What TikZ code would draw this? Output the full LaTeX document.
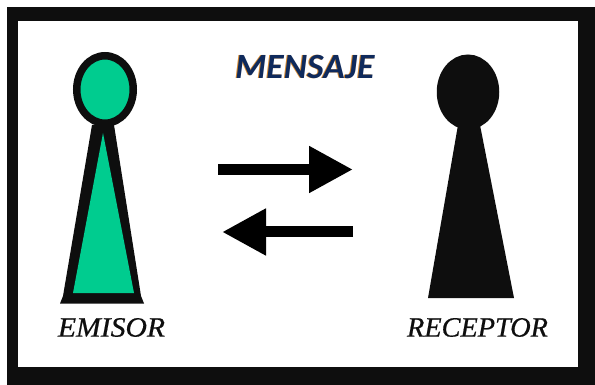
\documentclass[tikz,border=0pt]{standalone}
\usepackage{fontspec}
\setmainfont{Liberation Serif}
\newfontfamily\carl{Carlito}
\newfontfamily\capfont[FakeBold=0.6]{Liberation Serif}
\usetikzlibrary{shapes.geometric,arrows.meta}
\definecolor{frameblk}{HTML}{0E0E0E}
\definecolor{figgreen}{HTML}{00CC8F}
\definecolor{msgblue}{HTML}{0F2A5C}
\definecolor{msgorange}{HTML}{D9892B}
\tikzset{
  headshape/.style={ellipse,draw=frameblk,line width=7.5pt,inner sep=0pt,minimum width=56.5pt,minimum height=67.5pt},
  flow/.style={draw=black,line width=11pt,-{Triangle[length=44pt,width=44pt]}},
  caption/.style={text=frameblk,inner sep=0pt,font=\capfont\itshape\fontsize{28}{28}\selectfont},
  msgtext/.style={inner sep=0pt,font=\carl\itshape\bfseries\fontsize{35.5}{35.5}\selectfont}
}
\begin{document}
\begin{tikzpicture}[x=1pt,y=-1pt]
\useasboundingbox (0,0) rectangle (595,385);
\fill[white] (0,0) rectangle (595,385);
\fill[frameblk] (7,7) rectangle (595,385);
\fill[white] (17.5,21) rectangle (578,367);
% Emisor
\fill[frameblk] (92,125) -- (63,296) -- (60,303.5) -- (144,303.5) -- (141,296) -- (114,125) -- cycle;
\fill[figgreen] (103,133) -- (73,293) -- (134,293) -- cycle;
\node[headshape,fill=figgreen] (ehead) at (105,89.5) {};
\node[caption] (emisor) at (111.5,327.5) {\scalebox{1.06}[1]{EMISOR}};
% Receptor
\fill[frameblk] (458,125) -- (428,298) -- (514,298) -- (480,125) -- cycle;
\node[headshape,fill=frameblk,minimum width=55pt] (rhead) at (468,92) {};
\node[caption] (receptor) at (477.5,327.5) {\scalebox{1.01}[1]{RECEPTOR}};
% Message
\node[msgtext,text=msgorange] (msgshadow) at (304,67) {MENSAJE};
\node[msgtext,text=msgblue] (msg) at (305,67) {MENSAJE};
% Arrows
\coordinate (a1s) at (218,169.5);
\coordinate (a1e) at (353,169.5);
\coordinate (a2s) at (353,232);
\coordinate (a2e) at (222,232);
\draw[flow] (a1s) -- (a1e);
\draw[flow] (a2s) -- (a2e);
\end{tikzpicture}
\end{document}
